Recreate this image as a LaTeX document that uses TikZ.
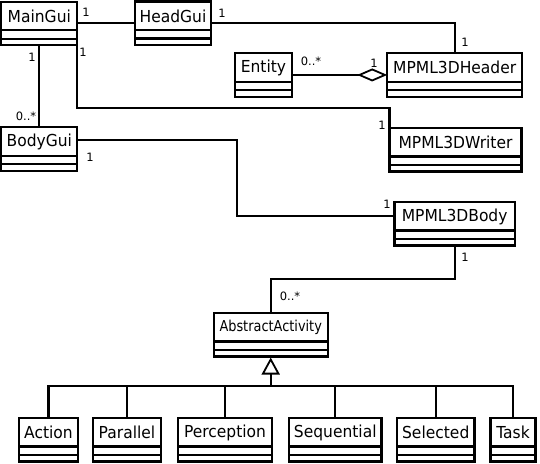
\documentclass[tikz,border=0pt]{standalone}
\usepackage{fontspec}
\setmainfont{DejaVu Sans}
\newfontfamily\umlfont[FakeStretch=0.94]{DejaVu Sans}
\newfontfamily\umlcondfont[FakeStretch=0.86]{DejaVu Sans}
\usetikzlibrary{arrows.meta}
\tikzset{
  classbox/.style={draw, line width=2.2pt, anchor=north west, inner sep=0pt, outer sep=0pt, minimum height=43.5pt},
  classname/.style={inner sep=0pt, font=\umlfont\fontsize{16.5}{19}\selectfont},
  mult/.style={inner sep=0pt, font=\fontsize{11.5}{13}\selectfont},
  assoc/.style={line width=2.2pt},
}
\def\umlclass[#1](#2,#3)(#4)#5{%
  \node[classbox, minimum width=#4pt] (#1) at (#2,#3) {};
  \node[classname] (#1-name) at ([yshift=-14.5pt]#1.north) {#5};
  \draw[line width=2.2pt] ([yshift=-28.5pt]#1.north west) -- ([yshift=-28.5pt]#1.north east);
  \draw[line width=2.2pt] ([yshift=-37pt]#1.north west) -- ([yshift=-37pt]#1.north east);
}

\begin{document}
\begin{tikzpicture}[x=1pt, y=-1pt]
				\useasboundingbox (0,0) rectangle (540,463);
				
				\umlclass[main](1.3,1.8)(76){MainGui}
				\umlclass[head](135.2,1.5)(75.6){HeadGui}
				\umlclass[entity](235.2,53.2)(56.6){Entity}
				\umlclass[header](387.2,53.2)(135){MPML3DHeader}
				\umlclass[writer](389.5,128)(132){MPML3DWriter}
				\umlclass[body](1.3,127.3)(76){BodyGui}
				\umlclass[mpbody](394.5,202)(120.3){MPML3DBody}
				\umlclass[activity](213.7,313)(114){\umlcondfont\fontsize{15}{17}\selectfont AbstractActivity}
				
				\umlclass[action](19,418)(59){Action}
				\umlclass[parallel](93,418)(68){Parallel}
				\umlclass[perception](178,418)(94){Perception}
				\umlclass[sequential](289,418)(92.5){Sequential}
				\umlclass[selected](397,418)(77.5){Selected}
				\umlclass[task](490.5,418)(45){Task}
				
				\draw[assoc] (head.west) -- (head.west -| main.east);
				\draw[assoc] (head.east) -| (header.north);
				\draw[assoc] (main.south east) -- ++(0,63) -| (writer.north west);
				\draw[assoc] (main.south) -- (main.south |- body.north);
				\draw[assoc] ([yshift=-13pt]body.north east) -- ++(159.5,0) |- ([yshift=-14pt]mpbody.north west);
				\draw[assoc] (mpbody.south) -- ++(0,33.5) -| (activity.north);
				\draw[assoc, -{Diamond[open, length=30pt, width=13pt, line width=1.8pt]}] (entity.east) -- (header.west);
				
				\coordinate (bus) at (270.7,386);
				\draw[assoc, -{Triangle[open, length=17pt, width=18pt, line width=1.8pt]}] (bus) -- ([yshift=-1pt]activity.south);
				\draw[assoc] (action.north) |- (bus) -| (task.north);
				\foreach \c in {parallel, perception, sequential, selected}
					\draw[assoc] (\c.north) -- (\c.north |- bus);
				
				\node[mult] (m1) at (86,12) {1};
				\node[mult] (m2) at (222,13) {1};
				\node[mult] (m3) at (465,42) {1};
				\node[mult] (m4) at (311,61) {0..*};
				\node[mult] (m5) at (374,63) {1};
				\node[mult] (m6) at (83,52) {1};
				\node[mult] (m7) at (32,57) {1};
				\node[mult] (m8) at (26,116) {0..*};
				\node[mult] (m9) at (90,157) {1};
				\node[mult] (m10) at (382,125) {1};
				\node[mult] (m11) at (387,204) {1};
				\node[mult] (m12) at (465,257) {1};
				\node[mult] (m13) at (290,296) {0..*};
			\end{tikzpicture}
\end{document}
